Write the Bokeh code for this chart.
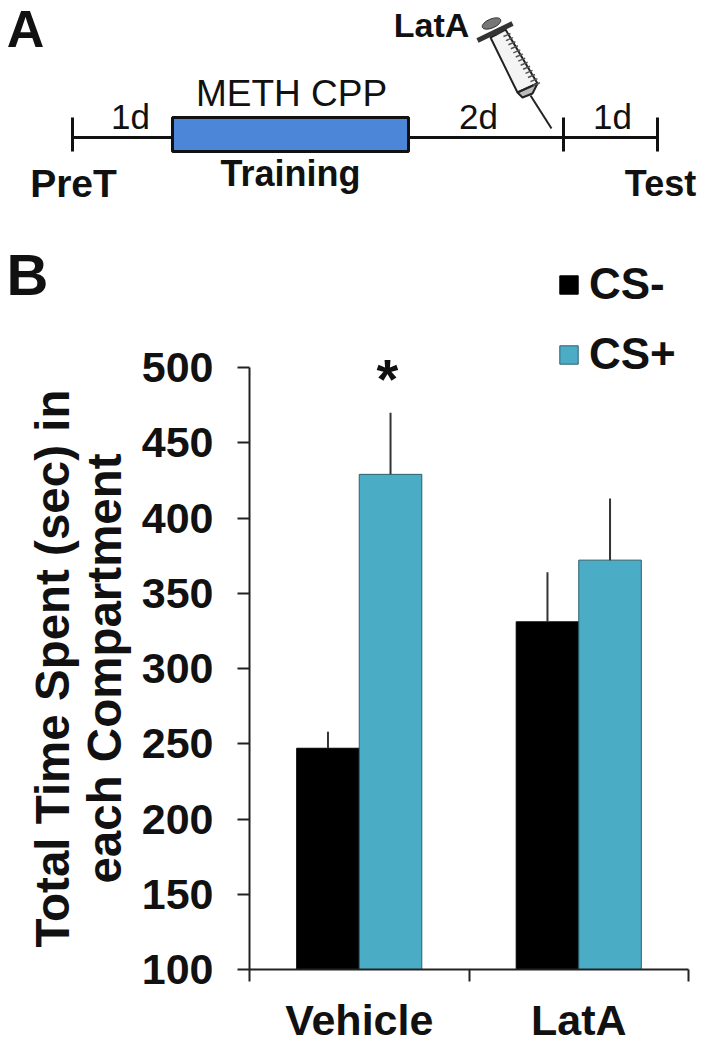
from bokeh.plotting import figure
from bokeh.layouts import column
from bokeh.models import Range1d, FixedTicker, Label, Legend, LegendItem
from bokeh.embed import file_html
from bokeh.resources import INLINE

# ---- data ----
groups = ["Vehicle", "LatA"]
cs_minus = [247, 331]
cs_plus = [429, 372]
cs_minus_err_top = [258, 364]
cs_plus_err_top = [470, 413]
y_ticks = [100, 150, 200, 250, 300, 350, 400, 450, 500]
legend_labels = ["CS-", "CS+"]

FONT = "Liberation Sans"
TEAL = "#4BACC6"
BLUE = "#4C86D8"
INK = "#111111"

# ---- upper canvas: schematic, panel letters, legend; ranges are page pixels ----
a = figure(width=700, height=412, x_range=Range1d(0, 700), y_range=Range1d(412, 0),
           output_backend="svg", toolbar_location=None, min_border=0,
           x_axis_type=None, y_axis_type=None, outline_line_color=None, frame_align=False)
a.grid.visible = False

a.segment([72, 408], [137, 137], [172, 657], [137, 137], line_color=INK, line_width=3)
a.segment([72, 563, 657], [117, 117, 117], [72, 563, 657], [151, 151, 151], line_color=INK, line_width=3)
a.quad(left=[172], right=[408], top=[117], bottom=[151], fill_color=BLUE, line_color=INK, line_width=3)


def t(x, y, s, size, bold=True, align="center", base="middle", color=INK):
    a.add_layout(Label(x=x, y=y, text=s, text_font=FONT, text_font_size=f"{size}px",
                       text_font_style="bold" if bold else "normal", text_align=align,
                       text_baseline=base, text_color=color))


t(25, 28, "A", 52)
t(27, 274, "B", 58)
t(130, 116, "1d", 35, bold=False)
t(291, 93, "METH CPP", 37, bold=False)
t(478, 116, "2d", 35, bold=False)
t(612, 116, "1d", 35, bold=False)
t(290, 173, "Training", 36)
t(73, 183, "PreT", 39)
t(660, 183, "Test", 36)
t(431, 24, "LatA", 34)
t(387, 378, "*", 56)

# syringe
a.patch([490, 505, 537, 517], [37, 29, 83, 92], fill_color="#f4f4f4", line_color="#222222", line_width=2)
a.line([477, 512], [40, 23], line_color="#333333", line_width=5)
a.ellipse([491], [23], width=[20], height=[9], angle=[0.4], fill_color="#777777", line_color="#333333")
a.line([495, 500], [34, 30], line_color="#333333", line_width=3)
a.patch([517, 537, 532, 522], [92, 83, 93, 97], fill_color="#bbbbbb", line_color="#222222", line_width=2)
a.line([530, 551], [95, 128], line_color="#222222", line_width=2)
hx = [503 + i * 2.45 for i in range(13)]
hy = [36 + i * 4.1 for i in range(13)]
a.segment(hx, hy, [v + 7 for v in hx], [v - 3 for v in hy], line_color="#555555", line_width=1.5)

# legend swatches: off-canvas quads only supply the legend's colours
k1 = a.quad(left=[-40], right=[-30], top=[-40], bottom=[-30], fill_color="black", line_color="black")
k2 = a.quad(left=[-40], right=[-30], top=[-40], bottom=[-30], fill_color=TEAL, line_color="#2f5f6c")
legend = Legend(items=[LegendItem(label=legend_labels[0], renderers=[k1]),
                       LegendItem(label=legend_labels[1], renderers=[k2])],
                location=(557, 33), orientation="vertical", padding=0, margin=0,
                spacing=20, glyph_width=23, glyph_height=23, label_standoff=9,
                label_text_font=FONT, label_text_font_style="bold", label_text_font_size="44px",
                label_text_color=INK, background_fill_alpha=0, border_line_color=None)
a.add_layout(legend)

# ---- lower canvas: bars, overlapping the upper one and transparent ----
b = figure(width=700, height=738, x_range=Range1d(0, 2), y_range=Range1d(100, 500),
           output_backend="svg", toolbar_location=None, margin=(-100, 0, 0, 0),
           min_border_left=249, min_border_right=12, min_border_top=55, min_border_bottom=81,
           outline_line_color=None, frame_align=False, border_fill_color=None, background_fill_color=None)
b.grid.visible = False

centers = [0.5, 1.5]
w = 0.285
b.vbar(x=[c - w / 2 for c in centers], top=cs_minus, bottom=100, width=w,
       fill_color="black", line_color="black", line_width=1)
b.vbar(x=[c + w / 2 for c in centers], top=cs_plus, bottom=100, width=w,
       fill_color=TEAL, line_color="#2f5f6c", line_width=1)
b.segment(x0=[c - w / 2 for c in centers], y0=cs_minus, x1=[c - w / 2 for c in centers],
          y1=cs_minus_err_top, line_color="#333333", line_width=2)
b.segment(x0=[c + w / 2 for c in centers], y0=cs_plus, x1=[c + w / 2 for c in centers],
          y1=cs_plus_err_top, line_color="#333333", line_width=2)

ya = b.yaxis[0]
ya.ticker = FixedTicker(ticks=y_ticks)
ya.major_tick_in = 0
ya.major_tick_out = 12
ya.minor_tick_line_color = None
ya.major_tick_line_width = 2
ya.axis_line_width = 2
ya.axis_line_color = "#222222"
ya.major_tick_line_color = "#222222"
ya.major_label_text_font = FONT
ya.major_label_text_font_style = "bold"
ya.major_label_text_font_size = "43px"
ya.major_label_text_color = INK
ya.major_label_standoff = 24
ya.axis_label = "Total Time Spent (sec) in\neach Compartment"
ya.axis_label_text_font = FONT
ya.axis_label_text_font_style = "bold"
ya.axis_label_text_font_size = "47.5px"
ya.axis_label_text_color = INK
ya.axis_label_text_line_height = 0.97
ya.axis_label_standoff = 8

xa = b.xaxis[0]
xa.ticker = FixedTicker(ticks=centers, minor_ticks=[0, 1, 2])
xa.major_label_overrides = {0.5: groups[0], 1.5: groups[1]}
xa.major_tick_in = 0
xa.major_tick_out = 0
xa.minor_tick_in = 0
xa.minor_tick_out = 12
xa.minor_tick_line_width = 2
xa.minor_tick_line_color = "#222222"
xa.axis_line_width = 2
xa.axis_line_color = "#222222"
xa.major_label_text_font = FONT
xa.major_label_text_font_style = "bold"
xa.major_label_text_font_size = "43px"
xa.major_label_text_color = INK
xa.major_label_text_line_height = 0.8
xa.major_label_standoff = 14

page = column(a, b, spacing=0)
open("out.html", "w").write(file_html(page, INLINE))
